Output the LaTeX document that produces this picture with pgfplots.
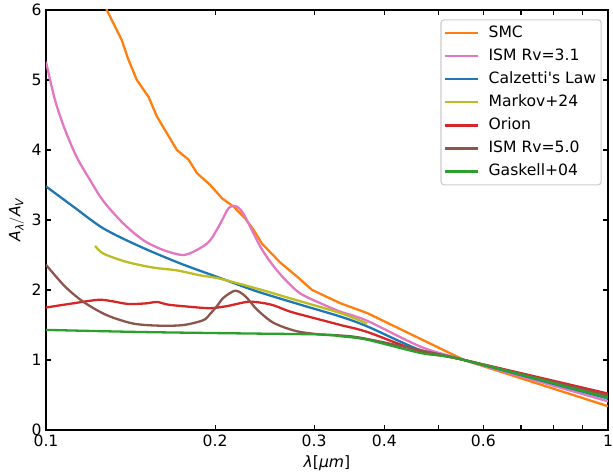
\documentclass[border=0pt]{standalone}
\usepackage{fontspec}
\setmainfont{DejaVu Sans}[Ligatures=TeXOff]
\usepackage{amsmath}
\usepackage{pgfplots}
\pgfplotsset{compat=1.18}
\definecolor{cOrange}{HTML}{FF7F0E}
\definecolor{cPink}{HTML}{E377C2}
\definecolor{cBlue}{HTML}{1F77B4}
\definecolor{cOlive}{HTML}{BCBD22}
\definecolor{cRed}{HTML}{D62728}
\definecolor{cBrown}{HTML}{8C564B}
\definecolor{cGreen}{HTML}{2CA02C}
\newcommand{\fs}{\fontsize{15.6}{18}\selectfont}
\begin{document}
\begin{tikzpicture}
\begin{axis}[
  scale only axis, width=562pt, height=420pt,
  xmode=log, xmin=0.1, xmax=1, ymin=0, ymax=6,
  xtick={0.1,0.2,0.3,0.4,0.5,0.6,0.7,0.8,0.9,1},
  xticklabels={0.1,0.2,0.3,0.4,,0.6,,,,1},
  minor xtick={},
  ytick={0,1,2,3,4,5,6},
  yticklabels={0,1,2,3,4,5,6},
  tick align=inside,
  xtick pos=both, ytick pos=both,
  major tick length=5.2pt,
  tick style={black, line width=1.2pt},
  axis line style={line width=1.25pt},
  tick label style={font=\fs},
  xticklabel style={yshift=-1.2pt},
  yticklabel style={xshift=-1pt},
  label style={font=\fs},
  xlabel={\textit{λ}[\textit{μm}]},
  ylabel={$\text{\itshape A}_{\text{\itshape λ}}/\text{\itshape A}_{\text{\itshape V}}$},
  xlabel style={at={(axis description cs:0.5,0)}, anchor=center, yshift=-33pt},
  ylabel style={at={(axis description cs:0,0.5)}, anchor=center, yshift=29.5pt},
  every axis plot/.append style={line width=2.3pt, line join=round, mark=none},
  legend style={font=\fs, at={(axis description cs:1,1)}, anchor=north east,
    xshift=-6.3pt, yshift=-9.3pt, draw=black!20, line width=1.1pt,
    rounded corners=3pt, fill=white, fill opacity=0.8, text opacity=1,
    inner xsep=2.5pt, inner ysep=6.2pt, row sep=9.1pt, column sep=7.3pt,
    nodes={inner xsep=2.5pt, inner ysep=0pt, text height=11pt, text depth=3pt},
    cells={anchor=west}},
  legend image code/.code={\draw[#1] (0pt,0pt) -- (33pt,0pt);},
]
\addplot[cOrange] coordinates {
(0.1265,6.25)(0.1283,6.0)(0.1364,5.57)(0.1402,5.29)(0.1451,5.0)(0.1522,4.76)(0.1575,4.48)
(0.1641,4.24)(0.1710,4.0)(0.1794,3.86)(0.1856,3.67)(0.1960,3.5)(0.2057,3.31)(0.2157,3.19)
(0.2263,3.02)(0.2340,2.86)(0.2424,2.66)(0.2613,2.39)(0.2798,2.19)(0.2976,2.0)(0.3342,1.81)
(0.3730,1.67)(0.5545,1.0)(1.0,0.34)};
\addlegendentry{SMC}
\addplot[cPink, smooth, tension=0.5] coordinates {
(0.1,5.26)(0.1038,4.71)(0.1081,4.29)(0.1134,3.9)(0.1198,3.57)(0.1265,3.27)(0.1373,2.95)
(0.1491,2.71)(0.1619,2.57)(0.1760,2.50)(0.1882,2.60)(0.1960,2.71)(0.2043,2.95)(0.2113,3.17)
(0.2172,3.20)(0.2233,3.12)(0.2310,2.90)(0.2406,2.62)(0.2508,2.40)(0.2648,2.17)(0.2836,1.95)
(0.3121,1.79)(0.3342,1.69)(0.3730,1.56)(0.4642,1.19)(0.5545,1.0)(1.0,0.41)};
\addlegendentry{ISM Rv=3.1}
\addplot[cBlue, smooth, tension=0.5] coordinates {
(0.1,3.48)(0.1119,3.19)(0.1265,2.88)(0.1471,2.62)(0.1733,2.38)(0.2043,2.17)(0.2374,1.98)
(0.2836,1.79)(0.3342,1.62)(0.3730,1.48)(0.4642,1.14)(0.5545,1.0)(1.0,0.45)};
\addlegendentry{Calzetti's Law}
\addplot[cOlive, smooth, tension=0.5] coordinates {
(0.1223,2.63)(0.1265,2.52)(0.1393,2.40)(0.1553,2.32)(0.1710,2.28)(0.1880,2.21)(0.2043,2.16)
(0.2374,2.02)(0.2722,1.88)(0.3342,1.67)(0.3730,1.52)};
\addlegendentry{Markov+24}
\addplot[cRed, smooth, tension=0.5] coordinates {
(0.1,1.75)(0.1119,1.81)(0.1240,1.86)(0.1310,1.84)(0.1402,1.80)(0.1512,1.81)(0.1575,1.83)
(0.1652,1.79)(0.1805,1.76)(0.1960,1.74)(0.2099,1.77)(0.2280,1.83)(0.2406,1.82)(0.2542,1.78)
(0.2722,1.69)(0.2996,1.60)(0.3342,1.50)(0.3730,1.40)(0.4642,1.12)(0.5545,1.0)(1.0,0.52)};
\addlegendentry{Orion}
\addplot[cBrown, smooth, tension=0.5] coordinates {
(0.1,2.36)(0.1081,2.05)(0.1166,1.83)(0.1283,1.64)(0.1431,1.52)(0.1597,1.49)(0.1758,1.50)
(0.1907,1.57)(0.1960,1.66)(0.2015,1.77)(0.2070,1.89)(0.2172,1.99)(0.2263,1.91)(0.2374,1.72)
(0.2542,1.53)(0.2798,1.41)(0.3121,1.36)(0.3342,1.35)(0.3730,1.30)(0.5545,1.0)(1.0,0.49)};
\addlegendentry{ISM Rv=5.0}
\addplot[cGreen, smooth, tension=0.5] coordinates {
(0.1,1.43)(0.1471,1.40)(0.2217,1.38)(0.3079,1.365)(0.3342,1.34)(0.3730,1.29)(0.4642,1.10)(0.5545,1.0)(1.0,0.46)};
\addlegendentry{Gaskell+04}
\end{axis}
\pgfresetboundingbox
\path ([xshift=-46pt,yshift=-43pt]current axis.south west) rectangle ([xshift=5pt,yshift=10pt]current axis.north east);
\end{tikzpicture}
\end{document}
